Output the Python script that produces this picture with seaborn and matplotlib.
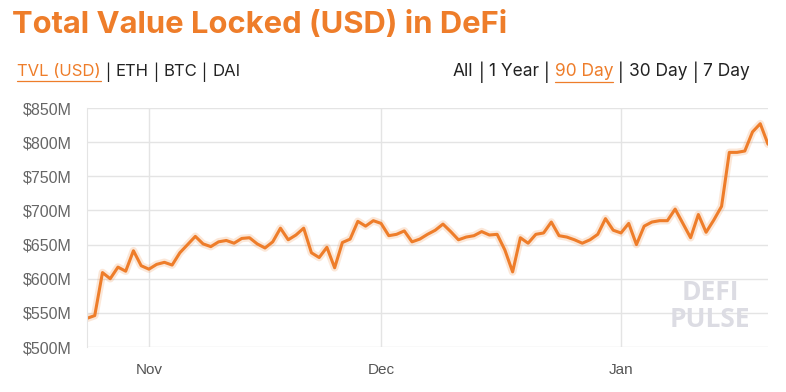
import pandas as pd
import seaborn as sns
import matplotlib.pyplot as plt
import matplotlib.dates as mdates
from matplotlib.ticker import FuncFormatter

# Daily TVL in millions USD
start_date = "2019-10-24"
tvl_musd = [
    542, 546, 609, 600, 617, 611, 641, 619, 614, 621,
    624, 620, 638, 650, 662, 651, 647, 654, 656, 652,
    659, 660, 651, 645, 654, 674, 657, 664, 674, 638,
    631, 646, 616, 653, 658, 684, 677, 685, 681, 663,
    665, 670, 654, 658, 665, 671, 680, 669, 657, 661,
    663, 669, 664, 665, 642, 610, 660, 652, 665, 667,
    683, 663, 661, 657, 652, 657, 665, 688, 671, 667,
    681, 650, 677, 683, 685, 685, 702, 681, 660, 694,
    668, 686, 706, 785, 785, 787, 815, 827, 797,
]
y_ticks = [500, 550, 600, 650, 700, 750, 800, 850]
left_tabs = [("TVL (USD)", True), ("ETH", False), ("BTC", False), ("DAI", False)]
right_tabs = [("All", False), ("1 Year", False), ("90 Day", True), ("30 Day", False), ("7 Day", False)]

df = pd.DataFrame({
    "date": pd.date_range(start_date, periods=len(tvl_musd), freq="D"),
    "tvl": tvl_musd,
})

orange = "#ee7d2a"
grid_col = "#e4e4e4"

sns.set_style("white")
plt.rcParams["font.family"] = ["Liberation Sans", "DejaVu Sans"]

fig = plt.figure(figsize=(7.86, 3.92), dpi=100)
ax = fig.add_axes([87 / 786, 45 / 392, 681 / 786, 239 / 392])

# soft glow under the line, then the line itself
sns.lineplot(data=df, x="date", y="tvl", color=orange, lw=5.5, alpha=0.18, ax=ax)
sns.lineplot(data=df, x="date", y="tvl", color=orange, lw=2.2, ax=ax)

ax.set_xlim(df["date"].iloc[0], df["date"].iloc[-1])
ax.set_ylim(y_ticks[0], y_ticks[-1])
ax.set_yticks(y_ticks)
ax.yaxis.set_major_formatter(FuncFormatter(lambda v, p: f"${v:.0f}M"))
ax.xaxis.set_major_locator(mdates.MonthLocator())
ax.xaxis.set_major_formatter(mdates.DateFormatter("%b"))
ax.set_xlabel("")
ax.set_ylabel("")
ax.grid(True, color=grid_col, lw=1)
for s in ["top", "right", "bottom"]:
    ax.spines[s].set_visible(False)
ax.spines["left"].set_color(grid_col)
ax.tick_params(axis="y", length=10, width=1, color=grid_col, pad=1,
               labelsize=11.5, labelcolor="#666666")
ax.tick_params(axis="x", length=9.5, width=1, color=grid_col, pad=2,
               labelsize=11, labelcolor="#555555")

# watermark
for label, yy in [("DEFI", 0.23), ("PULSE", 0.113)]:
    ax.text(0.915, yy, label, transform=ax.transAxes, ha="center", va="center",
            fontsize=19, fontweight="bold", color="#dcdce3",
            family=["Open Sans", "DejaVu Sans"])

# title
fig.text(12 / 786, 1 - 25 / 392, "Total Value Locked (USD) in DeFi", ha="left", va="center",
         fontsize=22.3, fontweight="bold", color=orange, family=["Inter", "DejaVu Sans"])

# tab rows
fig.canvas.draw()
renderer = fig.canvas.get_renderer()


def draw_tabs(tabs, x0, y, size):
    x = x0
    for i, (label, active) in enumerate(tabs):
        if i > 0:
            t = fig.text(x, y, " | ", ha="left", va="center", fontsize=size,
                         color="#222222", family=["Inter", "DejaVu Sans"])
            x = t.get_window_extent(renderer).x1 / fig.bbox.width
        t = fig.text(x, y, label, ha="left", va="center", fontsize=size,
                     color=orange if active else "#222222", family=["Inter", "DejaVu Sans"])
        bb = t.get_window_extent(renderer)
        if active:
            yy = (bb.y0 - 1) / fig.bbox.height
            fig.add_artist(plt.Line2D([bb.x0 / fig.bbox.width, bb.x1 / fig.bbox.width],
                                      [yy, yy], color=orange, lw=0.9))
        x = bb.x1 / fig.bbox.width


draw_tabs(left_tabs, 17 / 786, 1 - 72 / 392, 12)
draw_tabs(right_tabs, 453 / 786, 1 - 72 / 392, 12.5)

fig.savefig("out.png", dpi=100)
